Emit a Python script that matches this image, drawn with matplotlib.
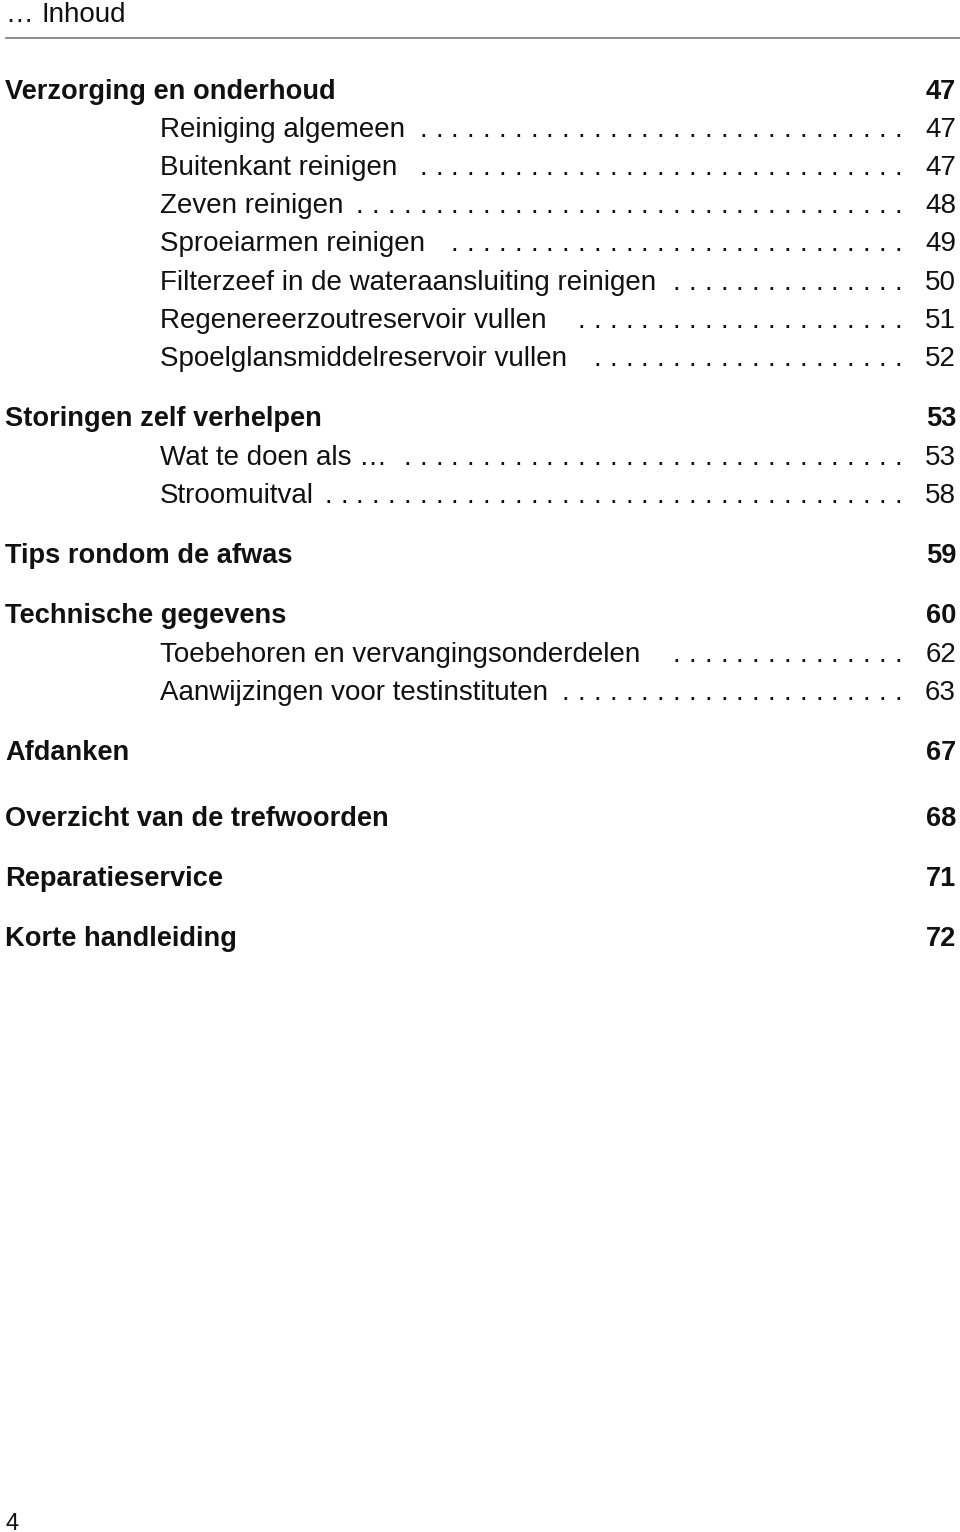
"""Table of contents page (Inhoud) redrawn with matplotlib text."""

import matplotlib
matplotlib.use("Agg")
import matplotlib.pyplot as plt

# --- data -----------------------------------------------------------------
header = "Inhoud"
page_number = "4"

sections = [
    "Verzorging en onderhoud",
    "Storingen zelf verhelpen",
    "Tips rondom de afwas",
    "Technische gegevens",
    "Afdanken",
    "Overzicht van de trefwoorden",
    "Reparatieservice",
    "Korte handleiding",
]
section_pages = ["47", "53", "59", "60", "67", "68", "71", "72"]

sub_titles = [
    "Reiniging algemeen",
    "Buitenkant reinigen",
    "Zeven reinigen",
    "Sproeiarmen reinigen",
    "Filterzeef in de wateraansluiting reinigen",
    "Regenereerzoutreservoir vullen",
    "Spoelglansmiddelreservoir vullen",
    "Wat te doen als \u2026",
    "Stroomuitval",
    "Toebehoren en vervangingsonderdelen",
    "Aanwijzingen voor testinstituten",
]
sub_pages = ["47", "47", "48", "49", "50", "51", "52", "53", "58", "62", "63"]
leader_dots = [31, 31, 35, 29, 15, 21, 20, 32, 37, 15, 22]

# --- layout (pixel baselines) ----------------------------------------------
section_base = [99, 426, 563, 623, 760, 826, 886, 946]
sub_base = [137, 175, 213, 251, 290, 328, 366, 465, 503, 662, 700]

W, H = 960, 1532
FONT = "Liberation Sans"
SIZE = 20
BOLD_SIZE = 19.6
INK = "#111111"
X_SECTION = 5
X_SUB = 160
X_PAGE = 956
X_LAST_DOT = 898
PITCH = 15.83

fig = plt.figure(figsize=(W / 100, H / 100), dpi=100)
ax = fig.add_axes([0, 0, 1, 1])
ax.set_xlim(0, W)
ax.set_ylim(H, 0)
ax.axis("off")

# header
ax.text(X_SECTION, 22, "\u2026", fontsize=SIZE, family=FONT, color=INK, va="baseline")
ax.text(42, 22, header, fontsize=SIZE, family=FONT, color=INK, va="baseline")
ax.plot([5, W], [38, 38], color="#7a7a7a", linewidth=1.2, solid_capstyle="butt")

for title, page, y in zip(sections, section_pages, section_base):
    ax.text(X_SECTION, y, title, fontsize=BOLD_SIZE, family=FONT, weight="bold",
            color=INK, va="baseline")
    ax.text(X_PAGE, y, page, fontsize=BOLD_SIZE, family=FONT, weight="bold",
            color=INK, va="baseline", ha="right")

for title, page, n, y in zip(sub_titles, sub_pages, leader_dots, sub_base):
    ax.text(X_SUB, y, title, fontsize=SIZE, family=FONT, color=INK, va="baseline")
    ax.text(X_PAGE, y, page, fontsize=SIZE, family=FONT, color=INK,
            va="baseline", ha="right")
    # leader dots on a right-aligned grid
    for k in range(n):
        ax.text(X_LAST_DOT - k * PITCH, y, ".", fontsize=SIZE, family=FONT,
                color=INK, va="baseline", ha="center")

ax.text(X_SECTION, 1530, page_number, fontsize=17, family=FONT, color=INK, va="baseline")

fig.savefig("out.png", dpi=100, facecolor="white")
